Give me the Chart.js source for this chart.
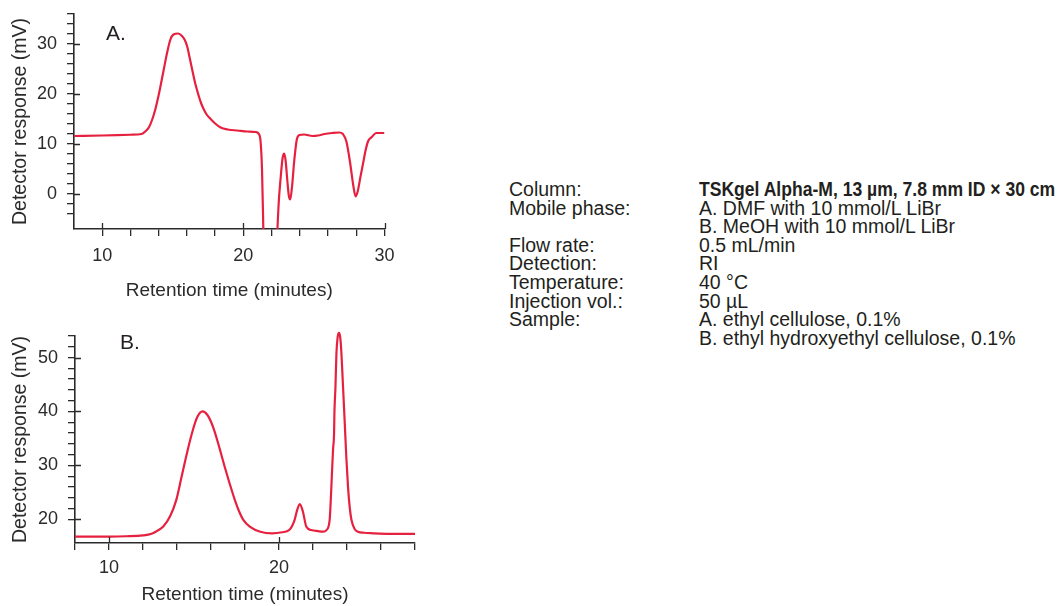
<!DOCTYPE html>
<html>
<head>
<meta charset="utf-8">
<script src="https://cdn.jsdelivr.net/npm/chart.js@4.4.1/dist/chart.umd.min.js"></script>
<style>
  html, body { margin: 0; padding: 0; background: #fff; }
  body { width: 1060px; height: 606px; position: relative; overflow: hidden;
         font-family: 'Liberation Sans', Arial, sans-serif; color: #231f20; }
  canvas { position: absolute; left: 0; }
  #chartA { top: -7px; }
  #chartB { top: 310px; }
  .panel { position: absolute; font-size: 21px; line-height: 21px; }
  #info { position: absolute; left: 509px; top: 180px; font-size: 19.5px; line-height: 18.6px; }
  #info .row { position: relative; height: 18.6px; white-space: nowrap; }
  #info .val { position: absolute; left: 190px; top: 0; }
  #info .bold { font-weight: bold; display: inline-block; transform: scaleX(0.9); transform-origin: left center; }
</style>
</head>
<body>
<canvas id="chartA" width="405" height="317"></canvas>
<canvas id="chartB" width="430" height="296"></canvas>
<div class="panel" style="left:106px; top:22px;">A.</div>
<div class="panel" style="left:120px; top:331px;">B.</div>

<div id="info">
  <div class="row">Column:<span class="val"><span class="bold">TSKgel Alpha-M, 13 µm, 7.8 mm ID × 30 cm</span></span></div>
  <div class="row">Mobile phase:<span class="val">A. DMF with 10 mmol/L LiBr</span></div>
  <div class="row"><span class="val">B. MeOH with 10 mmol/L LiBr</span></div>
  <div class="row">Flow rate:<span class="val">0.5 mL/min</span></div>
  <div class="row">Detection:<span class="val">RI</span></div>
  <div class="row">Temperature:<span class="val">40 °C</span></div>
  <div class="row">Injection vol.:<span class="val">50 µL</span></div>
  <div class="row">Sample:<span class="val">A. ethyl cellulose, 0.1%</span></div>
  <div class="row"><span class="val">B. ethyl hydroxyethyl cellulose, 0.1%</span></div>
</div>

<script>
// chromatogram A: ethyl cellulose in DMF
const timeA = [8, 10, 12, 12.8, 13.05, 13.3, 13.53, 13.75, 14.0, 14.2, 14.36, 14.6, 14.83, 15.05, 15.38,
  15.65, 15.85, 16.02, 16.2, 16.38, 16.6, 16.85, 17.0, 17.2, 17.4, 17.68, 18.0, 18.39, 18.9, 19.58, 20.3, 20.9,
  21.1, 21.22, 21.32, 21.4, 21.5, 21.8, 22.1, 22.35, 22.5, 22.65, 22.78, 22.9, 23.0, 23.12, 23.22,
  23.32, 23.45, 23.6, 23.78, 23.97, 24.3, 24.9, 25.3, 25.75, 26.3, 26.8, 27.05, 27.3, 27.55, 27.8,
  27.95, 28.1, 28.3, 28.48, 28.65, 28.83, 29.1, 29.42, 29.7, 30.0];
const responseA = [11.6, 11.7, 11.85, 12.0, 12.5, 13.3, 14.8, 16.8, 19.8, 22.6, 24.9, 28.3, 30.9, 31.9, 32.1,
  31.6, 30.8, 29.5, 27.2, 24.8, 22.0, 19.5, 18.2, 16.9, 15.9, 15.0, 14.1, 13.3, 12.9, 12.7, 12.5, 12.4,
  12.0, 10.5, 5, -5, -20, -40, -40, -12, -2, 3.5, 7.2, 8.1, 6.5, 2.5, -0.3,
  -1.1, 1.5, 6.5, 10.8, 11.8, 11.9, 11.6, 11.7, 12.0, 12.2, 12.3, 12.0, 10.5, 6.5, 1.5,
  -0.5, 0.5, 3.5, 6.1, 8.6, 10.5, 11.4, 12.2, 12.2, 12.2];

// chromatogram B: ethyl hydroxyethyl cellulose in MeOH
const timeB = [8, 10, 11, 12, 12.5, 12.8, 13.18, 13.6, 13.96, 14.25, 14.55, 14.9, 15.2, 15.5, 15.8,
  16.0, 16.2, 16.5, 16.8, 17.1, 17.4, 17.65, 17.9, 18.3, 18.9, 19.6, 20.2, 20.6, 20.92, 21.05, 21.22,
  21.4, 21.61, 21.9, 22.3, 22.6, 22.79, 22.98, 23.08, 23.18, 23.24, 23.26, 23.32, 23.38, 23.45, 23.53,
  23.6, 23.67, 23.76, 23.86, 23.96, 24.06, 24.16, 24.26, 24.45, 24.65, 25.0, 25.53, 26.5, 28.0];
const responseB = [16.8, 16.8, 16.85, 17.0, 17.3, 17.8, 18.6, 20.6, 23.6, 27.6, 31.8, 36.2, 39.0, 40.0, 39.3,
  38.1, 36.4, 33.2, 29.8, 26.6, 23.6, 21.5, 19.9, 18.6, 17.7, 17.4, 17.6, 18.0, 19.9, 21.5, 22.8,
  21.5, 18.6, 18.0, 17.8, 17.7, 18.0, 19.9, 26.0, 33.0, 36.0, 39.7, 44.5, 50.9, 53.8, 54.6,
  53.8, 50.9, 45.0, 38.4, 31.5, 26.0, 22.2, 19.9, 18.2, 17.7, 17.5, 17.4, 17.3, 17.3];

// labelled (major) ticks
const xLabelsA = [10, 20, 30];
const yLabelsA = [0, 10, 20, 30];
const xLabelsB = [10, 20];
const yLabelsB = [20, 30, 40, 50];

const FONT = "'Liberation Sans', Arial, sans-serif";
const INK = '#2b2b2b';
const LINE = '#e6213f';

// major ticks also poke into the plot area a little
const innerTicks = {
  id: 'innerTicks',
  afterDraw(chart, args, opts) {
    const { ctx, chartArea, scales } = chart;
    ctx.save();
    ctx.strokeStyle = INK;
    ctx.lineWidth = 1.3;
    ctx.beginPath();
    opts.x.forEach(v => {
      const px = Math.round(scales.x.getPixelForValue(v)) + 0.5;
      ctx.moveTo(px, chartArea.bottom);
      ctx.lineTo(px, chartArea.bottom - 6);
    });
    opts.y.forEach(v => {
      const py = Math.round(scales.y.getPixelForValue(v)) + 0.5;
      ctx.moveTo(chartArea.left, py);
      ctx.lineTo(chartArea.left + 6, py);
    });
    ctx.stroke();
    ctx.restore();
  }
};

function makeChart(id, xs, ys, cfg) {
  const points = xs.map((x, i) => ({ x: x, y: ys[i] }));
  const axisBase = {
    grid: { drawOnChartArea: false, drawTicks: true, tickLength: 7, color: INK, lineWidth: 1.3 },
    border: { display: true, color: INK, width: 1.6 }
  };
  return new Chart(document.getElementById(id), {
    type: 'line',
    data: {
      datasets: [{
        data: points,
        borderColor: LINE,
        borderWidth: 2.2,
        pointRadius: 0,
        cubicInterpolationMode: 'monotone',
        clip: cfg.clip
      }]
    },
    options: {
      responsive: false,
      animation: false,
      layout: { padding: cfg.padding, autoPadding: false },
      plugins: {
        legend: { display: false },
        tooltip: { enabled: false },
        innerTicks: { x: cfg.xLabels, y: cfg.yLabels }
      },
      scales: {
        x: {
          ...axisBase,
          type: 'linear',
          min: cfg.xMin, max: cfg.xMax,
          afterFit: s => { s.height = cfg.xHeight; },
          afterBuildTicks: s => { s.ticks = s.ticks.filter(t => cfg.keepXMin || t.value > cfg.xMin); },
          ticks: {
            stepSize: 2, autoSkip: false, maxRotation: 0, color: INK, padding: cfg.xPad,
            font: { family: FONT, size: 18 },
            callback: v => cfg.xLabels.includes(v) ? String(v) : ''
          },
          title: {
            display: true, text: 'Retention time (minutes)', color: INK,
            font: { family: FONT, size: 19 }, padding: { top: 0, bottom: cfg.xTitlePad }
          }
        },
        y: {
          ...axisBase,
          min: cfg.yMin, max: cfg.yMax,
          afterFit: s => { s.width = cfg.yWidth; },
          afterBuildTicks: s => { s.ticks = s.ticks.filter(t => t.value >= cfg.yFirstTick); },
          ticks: {
            stepSize: 2, autoSkip: false, color: INK, padding: 10,
            font: { family: FONT, size: 18 },
            callback: v => cfg.yLabels.includes(v) ? String(v) : ''
          },
          title: {
            display: true, text: 'Detector response (mV)', color: INK,
            font: { family: FONT, size: 19.5 }, padding: { top: 8.5, bottom: 0 }
          }
        }
      }
    },
    plugins: [innerTicks]
  });
}

makeChart('chartA', timeA, responseA, {
  xMin: 8, xMax: 30, yMin: -7, yMax: 36, yFirstTick: -6, keepXMin: false,
  xLabels: xLabelsA, yLabels: yLabelsA,
  padding: { left: 0, top: 21, right: 20.5, bottom: 0 },
  xHeight: 81, yWidth: 74, xPad: 9, xTitlePad: 8, clip: undefined
});

makeChart('chartB', timeB, responseB, {
  xMin: 8, xMax: 28, yMin: 15.6, yMax: 54, yFirstTick: 20, keepXMin: true,
  xLabels: xLabelsB, yLabels: yLabelsB,
  padding: { left: 0, top: 26, right: 15, bottom: 0 },
  xHeight: 63, yWidth: 75, xPad: 7, xTitlePad: 0, clip: false
});
</script>
</body>
</html>
